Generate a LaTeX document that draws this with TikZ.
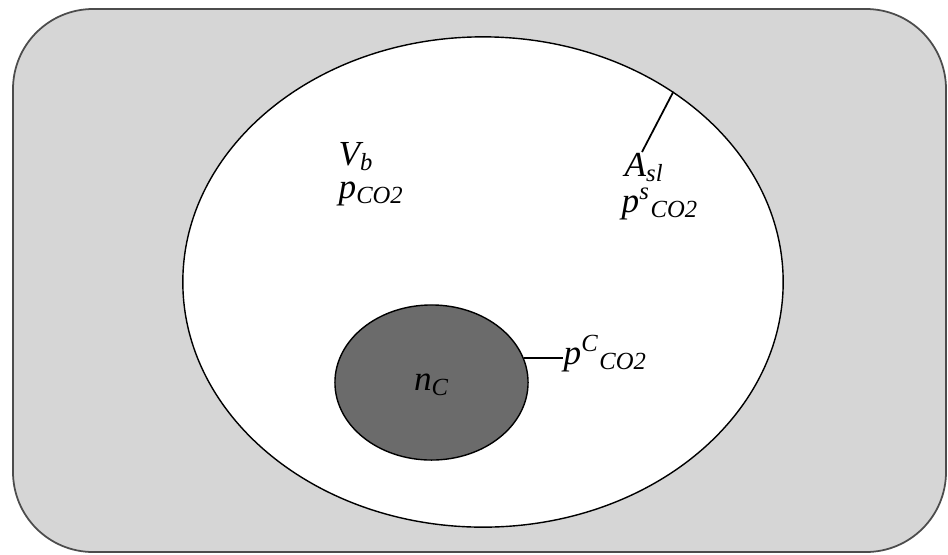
\documentclass[tikz,border=0pt]{standalone}
\usepackage{fontspec}
\setmainfont{Liberation Serif}
\usepackage{xcolor}
\usepackage{tikz}
\usetikzlibrary{shapes.geometric}

\definecolor{cellgrey}{gray}{0.84}
\definecolor{coregrey}{gray}{0.42}
\tikzset{
  lbl/.style={font=\fontsize{10}{12}\selectfont\itshape,inner sep=0pt},
}

\begin{document}
\begin{tikzpicture}[x=.01cm,y=-.01cm]
    \useasboundingbox (0,0) rectangle (948,554);
    \draw[rounded corners=.8cm,fill=cellgrey,draw=black!70,line width=.5pt] (13,9) rectangle (946,552);
    \node[ellipse,draw,fill=white,line width=.4pt,inner sep=0pt,minimum width=6cm,minimum height=4.9cm] (bubble) at (483,282) {};
    \node[ellipse,draw,fill=coregrey,line width=.4pt,inner sep=0pt,minimum width=1.93cm,minimum height=1.55cm] (core) at (431.5,382.5) {};
    % labels
    \node[lbl,anchor=base west] (vb) at (338,165) {V\textsubscript{b}};
    \node[lbl,anchor=base west] (pco) at (338,198) {p\textsubscript{CO2}};
    \node[lbl,anchor=base west] (asl) at (624,176) {A\textsubscript{sl}};
    \node[lbl,anchor=base west] (psco) at (621,212) {p\textsuperscript{s}\textsubscript{CO2}};
    \node[lbl,anchor=base west] (pcco) at (563,364) {p\textsuperscript{C}\textsubscript{CO2}};
    \node[lbl,anchor=base] (nc) at (432,390) {n\textsubscript{C}};
    \coordinate (aslend) at (642,152);
    \draw[line width=.5pt] (bubble.45.6) -- (aslend);
    \draw[line width=.5pt] (core.15.6) -- (core.15.6 -| pcco.west);
  \end{tikzpicture}
\end{document}
